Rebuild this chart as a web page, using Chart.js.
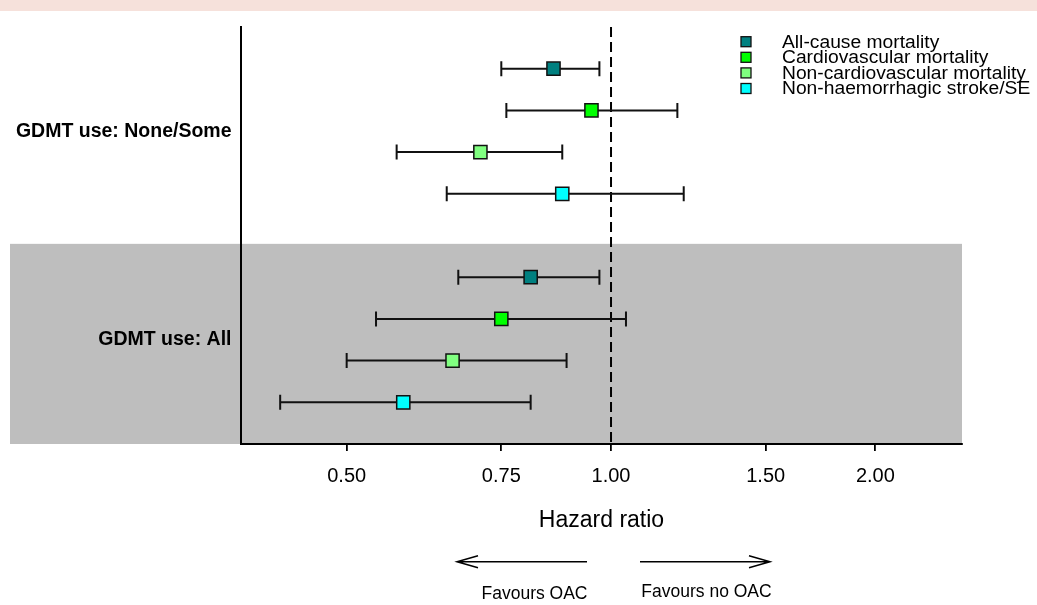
<!DOCTYPE html>
<html>
<head>
<meta charset="utf-8">
<script src="https://cdn.jsdelivr.net/npm/chart.js@4/dist/chart.umd.min.js"></script>
<style>
  html, body { margin: 0; padding: 0; background: #fff; }
  #wrap { width: 1037px; height: 605px; }
</style>
</head>
<body>
<div id="wrap"><canvas id="forest" width="1037" height="605"></canvas></div>
<script>
// outcomes and their colours
const outcomes = ['All-cause mortality', 'Cardiovascular mortality', 'Non-cardiovascular mortality', 'Non-haemorrhagic stroke/SE'];
const colours = ['#008080', '#00FF00', '#80FF80', '#00FFFF'];

// subgroups (row label + row centre)
const groups = ['GDMT use: All', 'GDMT use: None/Some'];
const groupRows = [2.5, 7.5];

// hazard ratios, GDMT none/some
const hrNone = [0.86, 0.95, 0.71, 0.88];
const lowNone = [0.75, 0.76, 0.57, 0.65];
const highNone = [0.97, 1.19, 0.88, 1.21];
const rowsNone = [9, 8, 7, 6];

// hazard ratios, GDMT all
const hrAll = [0.81, 0.75, 0.66, 0.58];
const lowAll = [0.67, 0.54, 0.50, 0.42];
const highAll = [0.97, 1.04, 0.89, 0.81];
const rowsAll = [4, 3, 2, 1];

const xTicks = [0.5, 0.75, 1, 1.5, 2];
const shadeTop = 4.8;

const datasets = outcomes.map((name, i) => ({
    label: name,
    data: [
        { x: hrNone[i], y: rowsNone[i], lo: lowNone[i], hi: highNone[i] },
        { x: hrAll[i], y: rowsAll[i], lo: lowAll[i], hi: highAll[i] }
    ],
    pointStyle: 'rect',
    pointRadius: 9.3,
    pointHoverRadius: 9.3,
    backgroundColor: colours[i],
    borderColor: '#111',
    borderWidth: 1.5
}));

const backdrop = {
    id: 'backdrop',
    beforeDraw(chart) {
        const { ctx, chartArea, scales } = chart;
        ctx.save();
        ctx.fillStyle = '#F6E1DB';
        ctx.fillRect(0, 0, chart.width, 11);
        ctx.fillStyle = '#BEBEBE';
        const yTop = scales.y.getPixelForValue(shadeTop);
        ctx.fillRect(10, yTop, chartArea.right - 10, chartArea.bottom - yTop);
        ctx.restore();
    }
};

const errorBars = {
    id: 'errorBars',
    beforeDatasetsDraw(chart) {
        const { ctx, chartArea, scales } = chart;
        const x = scales.x, y = scales.y;
        ctx.save();
        // reference line at HR = 1
        ctx.strokeStyle = '#000';
        ctx.lineWidth = 2;
        ctx.setLineDash([10, 5]);
        const x1 = x.getPixelForValue(1);
        ctx.beginPath();
        ctx.moveTo(x1, chartArea.top);
        ctx.lineTo(x1, chartArea.bottom);
        ctx.stroke();
        ctx.setLineDash([]);
        ctx.strokeStyle = '#111';
        ctx.lineWidth = 2;
        chart.data.datasets.forEach(ds => {
            ds.data.forEach(d => {
                const py = y.getPixelForValue(d.y);
                const pl = x.getPixelForValue(d.lo);
                const ph = x.getPixelForValue(d.hi);
                ctx.beginPath();
                ctx.moveTo(pl, py); ctx.lineTo(ph, py);
                ctx.moveTo(pl, py - 7.5); ctx.lineTo(pl, py + 7.5);
                ctx.moveTo(ph, py - 7.5); ctx.lineTo(ph, py + 7.5);
                ctx.stroke();
            });
        });
        ctx.restore();
    }
};

const extras = {
    id: 'extras',
    afterDraw(chart) {
        const { ctx } = chart;
        ctx.save();
        // legend (text is a bit wide in the original, so stretch it)
        ctx.textBaseline = 'middle';
        ctx.textAlign = 'left';
        chart.data.datasets.forEach((ds, i) => {
            const cy = 41.7 + i * 15.6;
            ctx.fillStyle = ds.backgroundColor;
            ctx.fillRect(741, cy - 5, 10, 10);
            ctx.strokeStyle = '#111';
            ctx.lineWidth = 1.3;
            ctx.strokeRect(741, cy - 5, 10, 10);
            ctx.fillStyle = '#000';
            ctx.save();
            ctx.translate(782, cy + 1);
            ctx.scale(1.1, 1);
            ctx.font = '17.5px "Liberation Sans", Arial, sans-serif';
            ctx.fillText(ds.label, 0, 0);
            ctx.restore();
        });
        // favours arrows
        ctx.strokeStyle = '#000';
        ctx.lineWidth = 1.5;
        const ay = 561.7;
        ctx.beginPath();
        ctx.moveTo(587, ay); ctx.lineTo(457, ay);
        ctx.moveTo(478, ay - 6); ctx.lineTo(457, ay); ctx.lineTo(478, ay + 6);
        ctx.moveTo(640, ay); ctx.lineTo(770, ay);
        ctx.moveTo(749, ay - 6); ctx.lineTo(770, ay); ctx.lineTo(749, ay + 6);
        ctx.stroke();
        ctx.fillStyle = '#000';
        ctx.font = '17.5px "Liberation Sans", Arial, sans-serif';
        ctx.textAlign = 'center';
        ctx.fillText('Favours OAC', 534.5, 594.5);
        ctx.fillText('Favours no OAC', 706.5, 592.5);
        ctx.restore();
    }
};

new Chart(document.getElementById('forest'), {
    type: 'scatter',
    data: { datasets },
    options: {
        responsive: false,
        animation: false,
        devicePixelRatio: 1,
        layout: { padding: { top: 27, right: 75, left: 0, bottom: 0 } },
        plugins: {
            legend: { display: false },
            tooltip: { enabled: false }
        },
        scales: {
            x: {
                type: 'logarithmic',
                min: 0.379,
                max: 2.51,
                afterFit: (scale) => { scale.height = 161; },
                afterBuildTicks: (scale) => { scale.ticks = xTicks.map(v => ({ value: v })); },
                ticks: {
                    callback: (v) => Number(v).toFixed(2),
                    color: '#000',
                    font: { family: '"Liberation Sans", Arial, sans-serif', size: 20 },
                    padding: 13,
                    maxRotation: 0,
                    autoSkip: false
                },
                grid: { drawOnChartArea: false, drawTicks: true, tickLength: 7, color: '#000', lineWidth: 1.8 },
                border: { display: true, color: '#000', width: 2 },
                title: {
                    display: true,
                    text: 'Hazard ratio',
                    color: '#000',
                    font: { family: '"Liberation Sans", Arial, sans-serif', size: 23 },
                    padding: { top: 0, bottom: 71 }
                }
            },
            y: {
                type: 'linear',
                min: 0,
                max: 10,
                afterFit: (scale) => { scale.width = 241; },
                afterBuildTicks: (scale) => { scale.ticks = groupRows.map(v => ({ value: v })); },
                ticks: {
                    callback: (v) => groups[groupRows.indexOf(v)],
                    color: '#000',
                    font: { family: '"Liberation Sans", Arial, sans-serif', size: 19.5, weight: 'bold' },
                    padding: 9.5
                },
                grid: { drawOnChartArea: false, drawTicks: false },
                border: { display: true, color: '#000', width: 2 }
            }
        }
    },
    plugins: [backdrop, errorBars, extras]
});
</script>
</body>
</html>
